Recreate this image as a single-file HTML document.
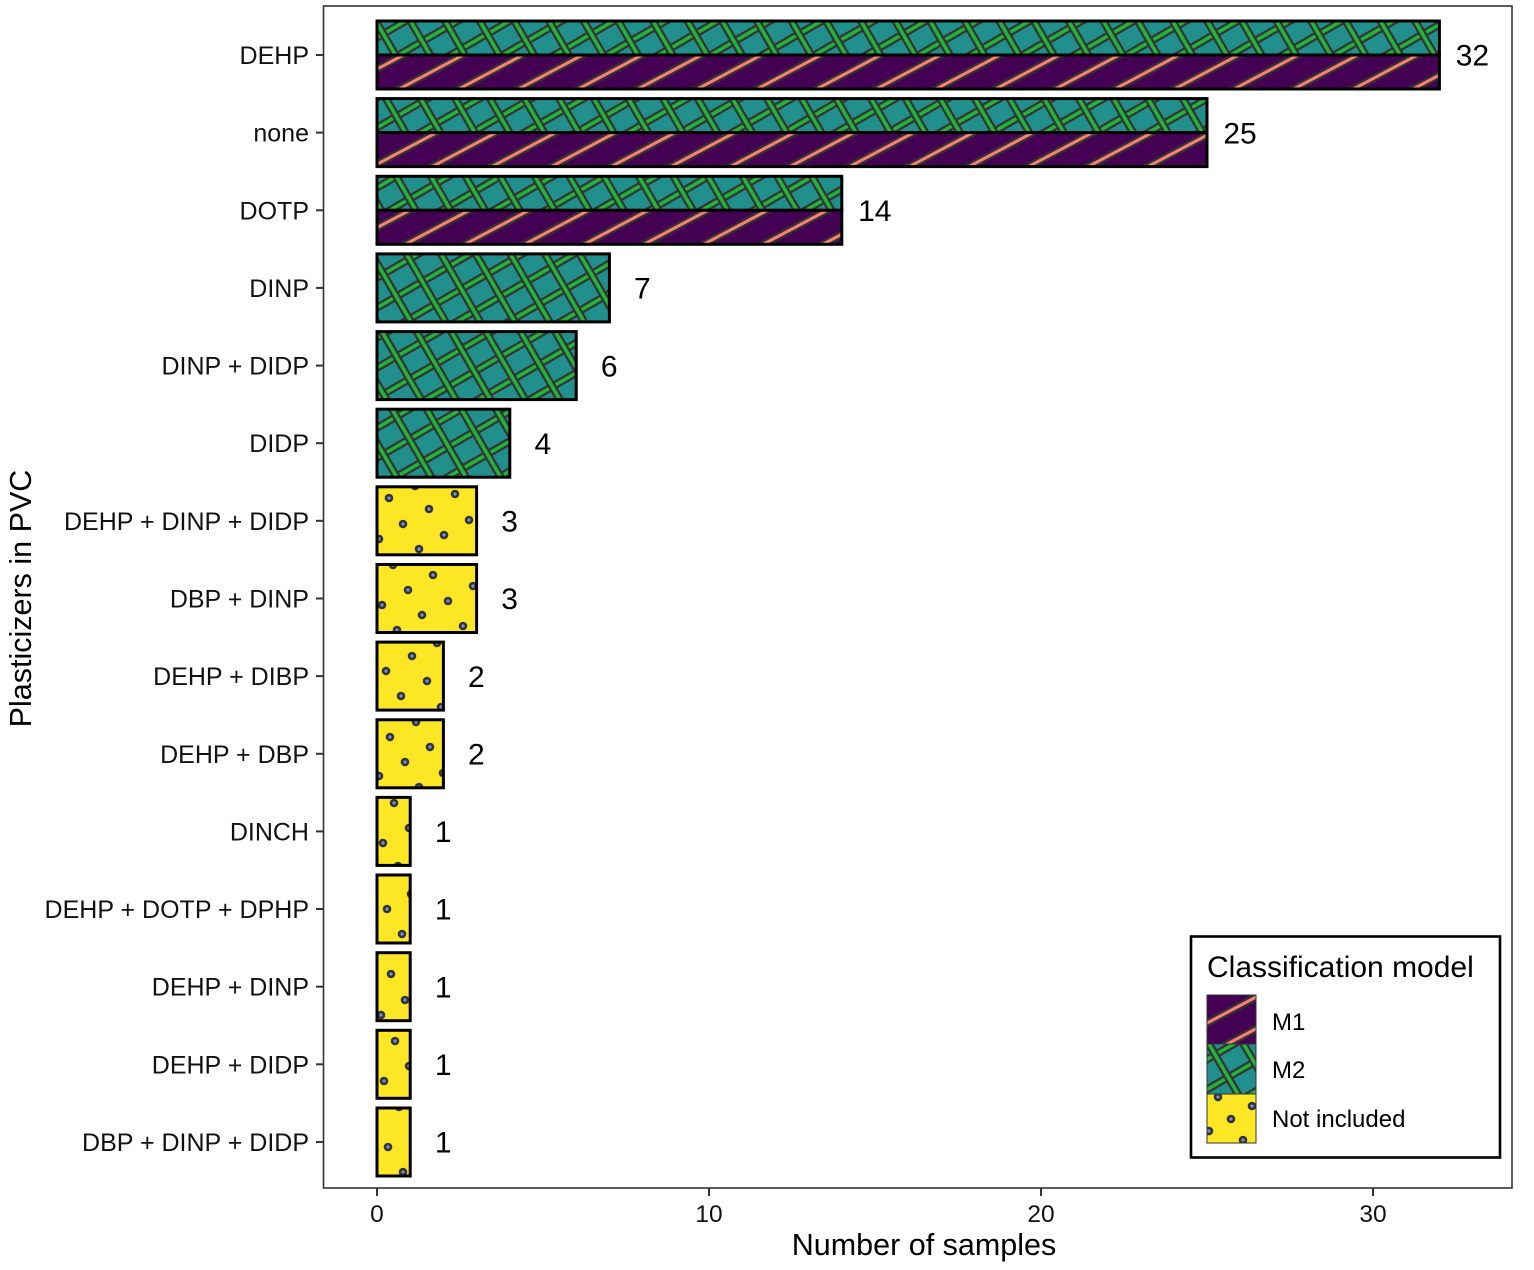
<!DOCTYPE html>
<html>
<head>
<meta charset="utf-8">
<style>
html,body{margin:0;padding:0;background:#fff;}
svg{display:block;}
text{font-family:"Liberation Sans",Arial,sans-serif;}
</style>
</head>
<body>
<svg width="1534" height="1270" viewBox="0 0 1534 1270" xmlns="http://www.w3.org/2000/svg">
<defs>
  <pattern id="m2" patternUnits="userSpaceOnUse" width="30" height="26" patternTransform="rotate(-30)">
    <rect width="30" height="26" fill="#21908C"/>
    <line x1="-2" y1="13" x2="32" y2="13" stroke="#333" stroke-width="8"/>
    <line x1="-2" y1="13" x2="32" y2="13" stroke="#22B53B" stroke-width="3.5"/>
    <line x1="15" y1="-2" x2="15" y2="28" stroke="#333" stroke-width="8"/>
    <line x1="15" y1="-2" x2="15" y2="28" stroke="#22B53B" stroke-width="3.5"/>
  </pattern>
  <pattern id="m1" patternUnits="userSpaceOnUse" width="30" height="28" patternTransform="rotate(-28)">
    <rect width="30" height="28" fill="#440154"/>
    <line x1="-2" y1="14" x2="32" y2="14" stroke="#333" stroke-width="7.5"/>
    <line x1="-2" y1="14" x2="32" y2="14" stroke="#FA8072" stroke-width="3"/>
  </pattern>
  <g id="dot">
    <circle cx="0" cy="0" r="4.3" fill="#333"/>
    <circle cx="0" cy="0" r="1.6" fill="#6F94E0"/>
  </g>
  <clipPath id="yc">
    <rect x="377" y="486.8" width="99.6" height="68"/>
    <rect x="377" y="564.5" width="99.6" height="68"/>
    <rect x="377" y="642.1" width="66.4" height="68"/>
    <rect x="377" y="719.8" width="66.4" height="68"/>
    <rect x="377" y="797.4" width="33.2" height="68"/>
    <rect x="377" y="875.0" width="33.2" height="68"/>
    <rect x="377" y="952.7" width="33.2" height="68"/>
    <rect x="377" y="1030.3" width="33.2" height="68"/>
    <rect x="377" y="1108.0" width="33.2" height="68"/>
  </clipPath>
  <clipPath id="lc">
    <rect x="1207" y="1094" width="49" height="49"/>
  </clipPath>
</defs>

<rect width="1534" height="1270" fill="#fff"/>

<!-- dodged bars M2 (top) / M1 (bottom) -->
<g stroke="#000" stroke-width="3">
  <rect x="377" y="21" width="1062.4" height="34" fill="url(#m2)"/>
  <rect x="377" y="55" width="1062.4" height="34" fill="url(#m1)"/>
  <rect x="377" y="98.6" width="830" height="34" fill="url(#m2)"/>
  <rect x="377" y="132.6" width="830" height="34" fill="url(#m1)"/>
  <rect x="377" y="176.3" width="464.8" height="34" fill="url(#m2)"/>
  <rect x="377" y="210.3" width="464.8" height="34" fill="url(#m1)"/>
  <rect x="377" y="253.9" width="232.4" height="68" fill="url(#m2)"/>
  <rect x="377" y="331.6" width="199.2" height="68" fill="url(#m2)"/>
  <rect x="377" y="409.2" width="132.8" height="68" fill="url(#m2)"/>
</g>

<!-- yellow bars -->
<g fill="#FDE725">
  <rect x="377" y="486.8" width="99.6" height="68"/>
  <rect x="377" y="564.5" width="99.6" height="68"/>
  <rect x="377" y="642.1" width="66.4" height="68"/>
  <rect x="377" y="719.8" width="66.4" height="68"/>
  <rect x="377" y="797.4" width="33.2" height="68"/>
  <rect x="377" y="875.0" width="33.2" height="68"/>
  <rect x="377" y="952.7" width="33.2" height="68"/>
  <rect x="377" y="1030.3" width="33.2" height="68"/>
  <rect x="377" y="1108.0" width="33.2" height="68"/>
</g>
<g clip-path="url(#yc)">
  <use href="#dot" x="415" y="486"/><use href="#dot" x="389" y="498"/><use href="#dot" x="455" y="494"/>
  <use href="#dot" x="429" y="509"/><use href="#dot" x="403" y="524"/><use href="#dot" x="469" y="520"/>
  <use href="#dot" x="444" y="535"/><use href="#dot" x="379" y="539"/><use href="#dot" x="419" y="549"/>

  <use href="#dot" x="393" y="565"/><use href="#dot" x="433" y="575"/><use href="#dot" x="408" y="590"/>
  <use href="#dot" x="473" y="586"/><use href="#dot" x="382" y="605"/><use href="#dot" x="448" y="601"/>
  <use href="#dot" x="422" y="615"/><use href="#dot" x="397" y="630"/><use href="#dot" x="463" y="626"/>

  <use href="#dot" x="437" y="643"/><use href="#dot" x="412" y="656"/><use href="#dot" x="386" y="671"/>
  <use href="#dot" x="427" y="681"/><use href="#dot" x="401" y="696"/><use href="#dot" x="441" y="707"/>

  <use href="#dot" x="416" y="722"/><use href="#dot" x="390" y="737"/><use href="#dot" x="430" y="747"/>
  <use href="#dot" x="405" y="762"/><use href="#dot" x="379" y="776"/><use href="#dot" x="443" y="773"/>
  <use href="#dot" x="419" y="787"/>

  <use href="#dot" x="394" y="803"/><use href="#dot" x="409" y="828"/><use href="#dot" x="383" y="843"/><use href="#dot" x="398" y="866"/>
  <use href="#dot" x="411" y="894"/><use href="#dot" x="387" y="909"/><use href="#dot" x="402" y="934"/>
  <use href="#dot" x="391" y="974"/><use href="#dot" x="405" y="1000"/><use href="#dot" x="381" y="1015"/>
  <use href="#dot" x="395" y="1041"/><use href="#dot" x="409" y="1066"/><use href="#dot" x="384" y="1081"/>
  <use href="#dot" x="399" y="1107"/><use href="#dot" x="388" y="1147"/><use href="#dot" x="403" y="1172"/>
</g>
<g fill="none" stroke="#000" stroke-width="3">
  <rect x="377" y="486.8" width="99.6" height="68"/>
  <rect x="377" y="564.5" width="99.6" height="68"/>
  <rect x="377" y="642.1" width="66.4" height="68"/>
  <rect x="377" y="719.8" width="66.4" height="68"/>
  <rect x="377" y="797.4" width="33.2" height="68"/>
  <rect x="377" y="875.0" width="33.2" height="68"/>
  <rect x="377" y="952.7" width="33.2" height="68"/>
  <rect x="377" y="1030.3" width="33.2" height="68"/>
  <rect x="377" y="1108.0" width="33.2" height="68"/>
</g>

<!-- value labels -->
<g font-size="30" fill="#000" text-anchor="middle">
  <text x="1472.4" y="65.7">32</text>
  <text x="1240" y="143.3">25</text>
  <text x="874.8" y="221">14</text>
  <text x="642.4" y="298.6">7</text>
  <text x="609.2" y="376.3">6</text>
  <text x="542.8" y="453.9">4</text>
  <text x="509.6" y="531.5">3</text>
  <text x="509.6" y="609.2">3</text>
  <text x="476.4" y="686.8">2</text>
  <text x="476.4" y="764.5">2</text>
  <text x="443.2" y="842.1">1</text>
  <text x="443.2" y="919.7">1</text>
  <text x="443.2" y="997.4">1</text>
  <text x="443.2" y="1075">1</text>
  <text x="443.2" y="1152.7">1</text>
</g>

<!-- panel border -->
<rect x="323.5" y="6" width="1188.5" height="1182" fill="none" stroke="#333" stroke-width="1.6"/>

<!-- ticks -->
<g stroke="#333" stroke-width="2">
  <line x1="316" y1="55" x2="323" y2="55"/>
  <line x1="316" y1="132.6" x2="323" y2="132.6"/>
  <line x1="316" y1="210.3" x2="323" y2="210.3"/>
  <line x1="316" y1="287.9" x2="323" y2="287.9"/>
  <line x1="316" y1="365.6" x2="323" y2="365.6"/>
  <line x1="316" y1="443.2" x2="323" y2="443.2"/>
  <line x1="316" y1="520.8" x2="323" y2="520.8"/>
  <line x1="316" y1="598.5" x2="323" y2="598.5"/>
  <line x1="316" y1="676.1" x2="323" y2="676.1"/>
  <line x1="316" y1="753.8" x2="323" y2="753.8"/>
  <line x1="316" y1="831.4" x2="323" y2="831.4"/>
  <line x1="316" y1="909" x2="323" y2="909"/>
  <line x1="316" y1="986.7" x2="323" y2="986.7"/>
  <line x1="316" y1="1064.3" x2="323" y2="1064.3"/>
  <line x1="316" y1="1142" x2="323" y2="1142"/>
  <line x1="377" y1="1188" x2="377" y2="1196"/>
  <line x1="709" y1="1188" x2="709" y2="1196"/>
  <line x1="1041" y1="1188" x2="1041" y2="1196"/>
  <line x1="1373" y1="1188" x2="1373" y2="1196"/>
</g>

<!-- y tick labels -->
<g font-size="25" fill="#111" text-anchor="end">
  <text x="309" y="64">DEHP</text>
  <text x="309" y="141.6">none</text>
  <text x="309" y="219.3">DOTP</text>
  <text x="309" y="296.9">DINP</text>
  <text x="309" y="374.6">DINP + DIDP</text>
  <text x="309" y="452.2">DIDP</text>
  <text x="309" y="529.8">DEHP + DINP + DIDP</text>
  <text x="309" y="607.5">DBP + DINP</text>
  <text x="309" y="685.1">DEHP + DIBP</text>
  <text x="309" y="762.8">DEHP + DBP</text>
  <text x="309" y="840.4">DINCH</text>
  <text x="309" y="918">DEHP + DOTP + DPHP</text>
  <text x="309" y="995.7">DEHP + DINP</text>
  <text x="309" y="1073.3">DEHP + DIDP</text>
  <text x="309" y="1151">DBP + DINP + DIDP</text>
</g>

<!-- x tick labels -->
<g font-size="24.5" fill="#111" text-anchor="middle">
  <text x="377" y="1222">0</text>
  <text x="709" y="1222">10</text>
  <text x="1041" y="1222">20</text>
  <text x="1373" y="1222">30</text>
</g>

<!-- axis titles -->
<text x="924" y="1255" font-size="30.5" fill="#000" text-anchor="middle">Number of samples</text>
<text transform="translate(31,598.5) rotate(-90)" font-size="30.5" fill="#000" text-anchor="middle">Plasticizers in PVC</text>

<!-- legend -->
<rect x="1191" y="936.5" width="309" height="221" fill="#fff" stroke="#000" stroke-width="2.6"/>
<text x="1207" y="977" font-size="30" fill="#000">Classification model</text>
<rect x="1207" y="995" width="49" height="49" fill="url(#m1)" stroke="#333" stroke-width="1"/>
<rect x="1207" y="1044" width="49" height="50" fill="url(#m2)" stroke="#333" stroke-width="1"/>
<rect x="1207" y="1094" width="49" height="49" fill="#FDE725"/>
<g clip-path="url(#lc)">
  <use href="#dot" x="1218" y="1097"/><use href="#dot" x="1252" y="1106"/><use href="#dot" x="1231" y="1119"/>
  <use href="#dot" x="1209" y="1131"/><use href="#dot" x="1243" y="1140"/>
</g>
<rect x="1207" y="1094" width="49" height="49" fill="none" stroke="#333" stroke-width="1"/>
<g font-size="24" fill="#000">
  <text x="1272" y="1030">M1</text>
  <text x="1272" y="1078">M2</text>
  <text x="1272" y="1127">Not included</text>
</g>
</svg>
</body>
</html>
